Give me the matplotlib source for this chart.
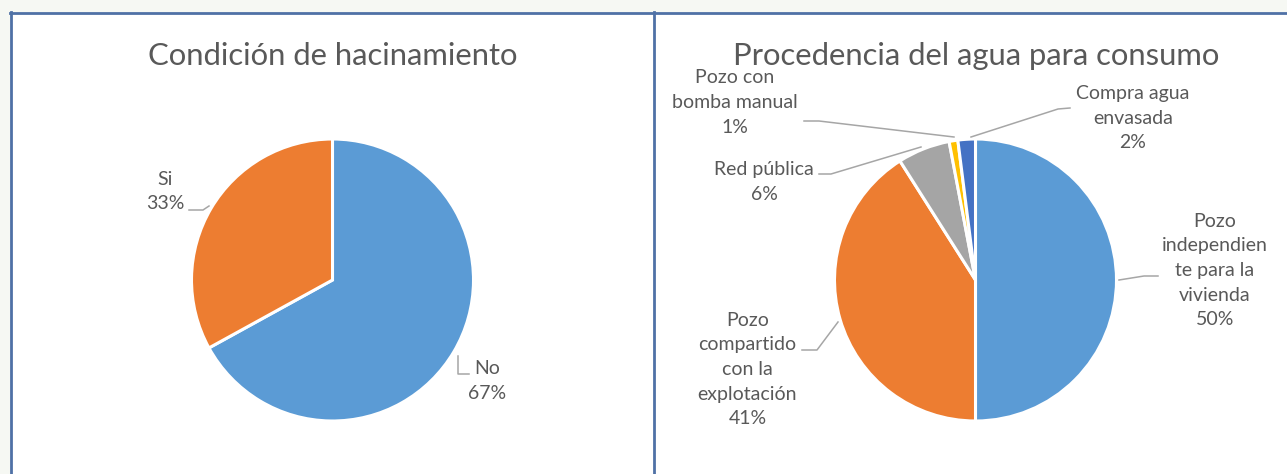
import matplotlib
matplotlib.use("Agg")
import matplotlib.pyplot as plt
from matplotlib.patches import Rectangle
from matplotlib.lines import Line2D

W, H = 1287, 474
plt.rcParams['font.family'] = ['Lato', 'DejaVu Sans']

left_title = "Condición de hacinamiento"
left_categories = ["No", "Si"]
left_values = [67, 33]
left_colors = ["#5B9BD5", "#ED7D31"]

right_title = "Procedencia del agua para consumo"
right_categories = ["Pozo independiente para la vivienda",
                    "Pozo compartido con la explotación",
                    "Red pública", "Pozo con bomba manual",
                    "Compra agua envasada"]
right_label_text = ["Pozo\nindependien\nte para la\nvivienda",
                    "Pozo\ncompartido\ncon la\nexplotación",
                    "Red pública", "Pozo con\nbomba manual",
                    "Compra agua\nenvasada"]
right_values = [50, 41, 6, 1, 2]
right_colors = ["#5B9BD5", "#ED7D31", "#A5A5A5", "#FFC000", "#4472C4"]

TXT = "#595959"
LEAD = "#A6A6A6"
LABEL_FS = 14
TITLE_FS = 22.3
R = 141

fig = plt.figure(figsize=(W / 100, H / 100), dpi=100)
fig.patch.set_facecolor('#f6f8f3')


def fx(px):
    return px / W


def fy(py):
    return 1 - py / H


fig.add_artist(Rectangle((fx(11), 0), 1 - fx(11), fy(13), transform=fig.transFigure,
                         facecolor='white', edgecolor='none', zorder=0))
border = '#4f71a6'
fig.add_artist(Line2D([fx(10), 1], [fy(12.5)] * 2, transform=fig.transFigure, color=border, lw=2))
fig.add_artist(Line2D([fx(11)] * 2, [0, fy(12)], transform=fig.transFigure, color=border, lw=2))
fig.add_artist(Line2D([fx(654)] * 2, [0, fy(12)], transform=fig.transFigure, color=border, lw=2))


def make_panel(x0, x1, cx, cy, values, colors, title, tcx, tby):
    ax = fig.add_axes([fx(x0), 0, fx(x1) - fx(x0), 1])
    ax.pie(values, colors=colors, startangle=90, counterclock=False,
           wedgeprops=dict(edgecolor='white', linewidth=2.2))
    ax.set_aspect('auto')
    ax.set_xlim((x0 - cx) / R, (x1 - cx) / R)
    ax.set_ylim((cy - H) / R, cy / R)
    ax.axis('off')

    def P(px, py):
        return ((px - cx) / R, (cy - py) / R)

    ax.text(*P(tcx, tby), title, fontsize=TITLE_FS, color=TXT, ha='center', va='baseline')
    return ax, P


def label(ax, P, pos, text, pts):
    ax.text(*P(*pos), text, fontsize=LABEL_FS, color=TXT, ha='center', va='center',
            linespacing=1.55)
    xs, ys = zip(*[P(*p) for p in pts])
    ax.plot(xs, ys, color=LEAD, lw=1.1, solid_joinstyle='round')


# Left panel
axL, PL = make_panel(0, 654, 332.5, 280, left_values, left_colors, left_title, 333, 65)
left_pos = [(487, 381), (165, 191.5)]
left_lines = [[(458, 356), (458, 374), (469, 374)],
              [(189, 210), (203, 210), (209, 206)]]
for cat, v, pos, pts in zip(left_categories, left_values, left_pos, left_lines):
    label(axL, PL, pos, f"{cat}\n{v:.0f}%", pts)

# Right panel
axR, PR = make_panel(654, 1287, 975.5, 280, right_values, right_colors, right_title, 976, 65)
right_pos = [(1215, 270.5), (747.5, 369.5), (764, 182), (735, 102.5), (1133, 118)]
right_lines = [[(1119, 280), (1144, 276), (1158, 276)],
               [(838, 322), (817, 350), (802, 350)],
               [(921, 147), (831, 174), (819, 174)],
               [(954, 137), (819, 121), (804, 121)],
               [(971, 137), (1058, 109), (1070, 108)]]
for txt, v, pos, pts in zip(right_label_text, right_values, right_pos, right_lines):
    label(axR, PR, pos, f"{txt}\n{v:.0f}%", pts)

fig.savefig("out.png", dpi=100, facecolor=fig.get_facecolor())
